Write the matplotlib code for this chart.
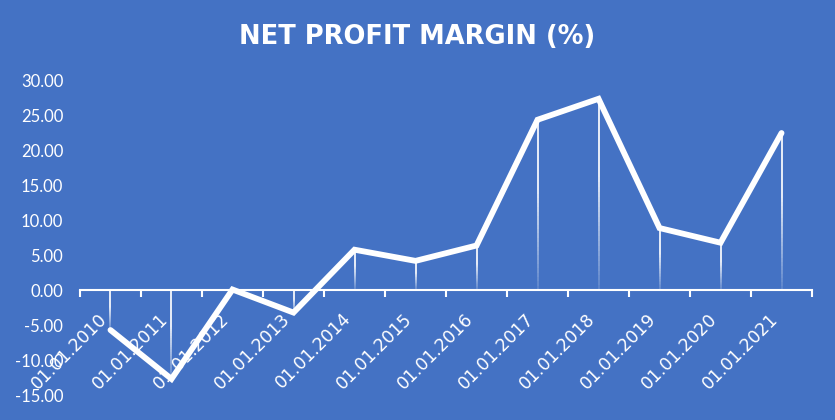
import numpy as np
import matplotlib
matplotlib.use("Agg")
import matplotlib.pyplot as plt
from matplotlib.collections import LineCollection

years = ["01.01.2010", "01.01.2011", "01.01.2012", "01.01.2013", "01.01.2014",
         "01.01.2015", "01.01.2016", "01.01.2017", "01.01.2018", "01.01.2019",
         "01.01.2020", "01.01.2021"]
margin = [-5.7, -12.7, 0.1, -3.2, 5.8, 4.2, 6.4, 24.4, 27.4, 8.9, 6.8, 22.5]

bg = "#4472C4"
plt.rcParams['font.family'] = ['Lato', 'DejaVu Sans']

fig = plt.figure(figsize=(8.35, 4.2), dpi=100, facecolor=bg)
ax = fig.add_axes([0.0958, 0.0595, 0.8767, 0.7485])
ax.set_facecolor(bg)

x = np.arange(len(years))

# drop lines: white at the top, fading toward the bottom
for xi, yi in zip(x, margin):
    top, bot = max(yi, 0), min(yi, 0)
    ys = np.linspace(top, bot, 40)
    segs = [[(xi, ys[i]), (xi, ys[i + 1])] for i in range(len(ys) - 1)]
    t = np.linspace(0, 1, len(segs))
    alphas = 0.95 - np.clip((t - 0.4) / 0.6, 0, 1) * 0.8
    colors = [(1, 1, 1, a) for a in alphas]
    ax.add_collection(LineCollection(segs, colors=colors, linewidths=1.3, zorder=2))

ax.plot(x, margin, color="white", lw=4.2, solid_capstyle="round",
        solid_joinstyle="miter", zorder=3)

ax.set_xlim(-0.5, len(years) - 0.5)
ax.set_ylim(-15, 30)
ax.set_yticks(np.arange(-15, 31, 5))
ax.set_yticklabels([f"{v:.2f}" for v in np.arange(-15, 31, 5)])
ax.tick_params(axis="y", length=0, pad=12, labelsize=12, labelcolor="white")

# category axis at zero, ticks between categories
ax.spines["bottom"].set_position(("data", 0))
for s in ["top", "right", "left"]:
    ax.spines[s].set_visible(False)
ax.spines["bottom"].set_color("white")
ax.spines["bottom"].set_linewidth(1.5)
ax.set_xticks(np.arange(-0.5, len(years), 1))
ax.set_xticklabels([])
ax.tick_params(axis="x", which="major", direction="out", length=5, width=1.5, color="white")
ax.set_xticks(x, minor=True)
ax.set_xticklabels(years, minor=True, rotation=45, ha="right", va="top",
                   family=["DejaVu Sans"])
ax.tick_params(axis="x", which="minor", length=0, pad=14, labelsize=12.5, labelcolor="white")

fig.text(0.5, 0.912, "NET PROFIT MARGIN (%)", color="white", fontsize=18.5,
         fontweight="bold", ha="center", va="center", family=["DejaVu Sans"])

fig.savefig("out.png", dpi=100, facecolor=bg)
